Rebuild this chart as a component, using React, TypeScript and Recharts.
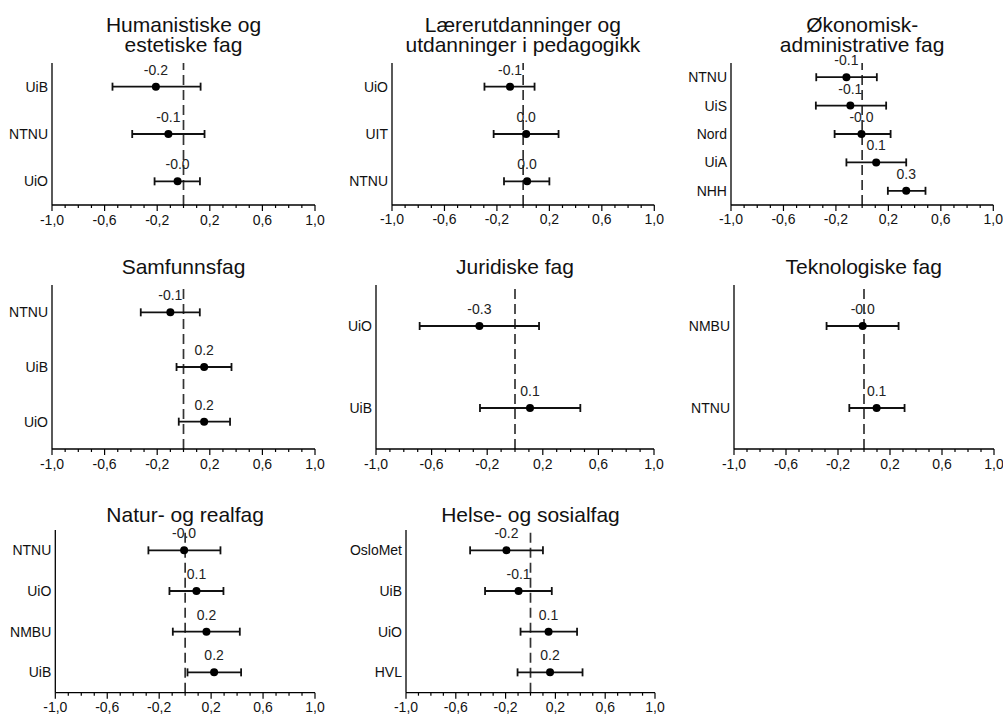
import React from 'react';
import { ComposedChart, Line, XAxis, YAxis, ErrorBar, LabelList, ReferenceLine } from 'recharts';

// one panel per field of study: institution, estimate, CI low, CI high, printed label
const humNames = ['UiB', 'NTNU', 'UiO'];
const humValues = [-0.21, -0.115, -0.045];
const humLow = [-0.54, -0.39, -0.22];
const humHigh = [0.13, 0.16, 0.125];
const humLabels = ['-0.2', '-0.1', '-0.0'];

const lerNames = ['UiO', 'UIT', 'NTNU'];
const lerValues = [-0.1, 0.023, 0.03];
const lerLow = [-0.295, -0.225, -0.146];
const lerHigh = [0.087, 0.27, 0.2];
const lerLabels = ['-0.1', '0.0', '0.0'];

const okoNames = ['NTNU', 'UiS', 'Nord', 'UiA', 'NHH'];
const okoValues = [-0.12, -0.09, -0.005, 0.107, 0.336];
const okoLow = [-0.35, -0.353, -0.21, -0.12, 0.196];
const okoHigh = [0.112, 0.183, 0.217, 0.336, 0.483];
const okoLabels = ['-0.1', '-0.1', '-0.0', '0.1', '0.3'];

const samNames = ['NTNU', 'UiB', 'UiO'];
const samValues = [-0.1, 0.157, 0.157];
const samLow = [-0.325, -0.053, -0.036];
const samHigh = [0.124, 0.365, 0.354];
const samLabels = ['-0.1', '0.2', '0.2'];

const jurNames = ['UiO', 'UiB'];
const jurValues = [-0.256, 0.108];
const jurLow = [-0.686, -0.252];
const jurHigh = [0.173, 0.47];
const jurLabels = ['-0.3', '0.1'];

const tekNames = ['NMBU', 'NTNU'];
const tekValues = [-0.01, 0.097];
const tekLow = [-0.288, -0.113];
const tekHigh = [0.266, 0.312];
const tekLabels = ['-0.0', '0.1'];

const natNames = ['NTNU', 'UiO', 'NMBU', 'UiB'];
const natValues = [-0.008, 0.087, 0.164, 0.223];
const natLow = [-0.283, -0.121, -0.095, 0.018];
const natHigh = [0.272, 0.295, 0.421, 0.431];
const natLabels = ['-0.0', '0.1', '0.2', '0.2'];

const helNames = ['OsloMet', 'UiB', 'UiO', 'HVL'];
const helValues = [-0.193, -0.096, 0.145, 0.157];
const helLow = [-0.485, -0.365, -0.08, -0.104];
const helHigh = [0.1, 0.171, 0.374, 0.418];
const helLabels = ['-0.2', '-0.1', '0.1', '0.2'];

const xTicks = [-1, -0.9, -0.8, -0.7, -0.6, -0.5, -0.4, -0.3, -0.2, -0.1, 0, 0.1, 0.2, 0.3, 0.4, 0.5, 0.6, 0.7, 0.8, 0.9, 1];
const majorTicks = [-1, -0.6, -0.2, 0.2, 0.6, 1];

const FONT = '"Liberation Sans", Arial, Helvetica, sans-serif';

const build = (names: string[], values: number[], low: number[], high: number[], labels: string[]) =>
  names.map((name, i) => ({
    name,
    value: values[i],
    err: [values[i] - low[i], high[i] - values[i]],
    label: labels[i],
  }));

const XTick = (props: any) => {
  const { x, y, payload } = props;
  const v = payload.value;
  const major = majorTicks.some((m) => Math.abs(m - v) < 1e-6);
  return (
    <g>
      <line x1={x} x2={x} y1={y} y2={y + (major ? 6 : 3)} stroke="#000" strokeWidth={1.2} />
      {major && (
        <text x={x} y={y + 19.5} textAnchor="middle" fontSize={14} fontFamily={FONT} fill="#111">
          {v.toFixed(1).replace('.', ',')}
        </text>
      )}
    </g>
  );
};

interface PanelProps {
  title: string[];
  data: any[];
  plotLeft: number;
  plotTop: number;
  plotWidth: number;
  plotHeight: number;
  yWidth: number;
  titleTop: number;
}

const TOP = 24;
const RIGHT = 16;
const XH = 30;

const Panel: React.FC<PanelProps> = ({ title, data, plotLeft, plotTop, plotWidth, plotHeight, yWidth, titleTop }) => (
  <>
    {title.map((t, i) => (
      <div
        key={t}
        style={{
          position: 'absolute',
          left: plotLeft - 60,
          width: plotWidth + 120,
          top: titleTop + i * 20,
          height: 20,
          textAlign: 'center',
          fontFamily: FONT,
          fontSize: 21,
          lineHeight: '20px',
          color: '#111',
          whiteSpace: 'nowrap',
        }}
      >
        {t}
      </div>
    ))}
    <div style={{ position: 'absolute', left: plotLeft - yWidth, top: plotTop - TOP }}>
      <ComposedChart
        width={yWidth + plotWidth + RIGHT}
        height={TOP + plotHeight + XH}
        data={data}
        layout="vertical"
        margin={{ top: TOP, right: RIGHT, left: 0, bottom: 0 }}
      >
        <XAxis
          type="number"
          dataKey="value"
          domain={[-1, 1]}
          ticks={xTicks}
          interval={0}
          allowDataOverflow
          height={XH}
          tickSize={0}
          tickMargin={0}
          tickLine={false}
          axisLine={{ stroke: '#000', strokeWidth: 1.3 }}
          tick={<XTick />}
        />
        <YAxis
          type="category"
          dataKey="name"
          scale="band"
          width={yWidth}
          tickLine={false}
          tickSize={2}
          tickMargin={2}
          axisLine={{ stroke: '#000', strokeWidth: 1.3 }}
          tick={{ fontSize: 14, fill: '#111', fontFamily: FONT }}
        />
        <ReferenceLine x={0} stroke="#333" strokeWidth={1.7} strokeDasharray="10 5" />
        <Line
          dataKey="value"
          stroke="none"
          isAnimationActive={false}
          dot={{ r: 4, fill: '#000', stroke: '#000', strokeWidth: 0 }}
          activeDot={false}
        >
          <ErrorBar dataKey="err" direction="x" width={4} stroke="#111" strokeWidth={1.8} />
          <LabelList dataKey="label" position="top" offset={12} fontSize={14} fill="#222" fontFamily={FONT} />
        </Line>
      </ComposedChart>
    </div>
  </>
);

export default function App() {
  return (
    <div style={{ position: 'absolute', left: 0, top: 0, width: 1003, height: 715, background: '#fff', overflow: 'hidden' }}>
      <Panel title={['Humanistiske og', 'estetiske fag']} data={build(humNames, humValues, humLow, humHigh, humLabels)}
        plotLeft={52} plotTop={63} plotWidth={263} plotHeight={142} yWidth={52} titleTop={15} />
      <Panel title={['Lærerutdanninger og', 'utdanninger i pedagogikk']} data={build(lerNames, lerValues, lerLow, lerHigh, lerLabels)}
        plotLeft={391.7} plotTop={63} plotWidth={262.3} plotHeight={142} yWidth={60} titleTop={15} />
      <Panel title={['Økonomisk-', 'administrative fag']} data={build(okoNames, okoValues, okoLow, okoHigh, okoLabels)}
        plotLeft={731} plotTop={63} plotWidth={262.3} plotHeight={142} yWidth={60} titleTop={15} />
      <Panel title={['Samfunnsfag']} data={build(samNames, samValues, samLow, samHigh, samLabels)}
        plotLeft={52} plotTop={285} plotWidth={263} plotHeight={164} yWidth={52} titleTop={257} />
      <Panel title={['Juridiske fag']} data={build(jurNames, jurValues, jurLow, jurHigh, jurLabels)}
        plotLeft={376} plotTop={285} plotWidth={278} plotHeight={164} yWidth={46} titleTop={257} />
      <Panel title={['Teknologiske fag']} data={build(tekNames, tekValues, tekLow, tekHigh, tekLabels)}
        plotLeft={733.7} plotTop={285} plotWidth={260} plotHeight={164} yWidth={60} titleTop={257} />
      <Panel title={['Natur- og realfag']} data={build(natNames, natValues, natLow, natHigh, natLabels)}
        plotLeft={55.3} plotTop={530} plotWidth={259.7} plotHeight={162.7} yWidth={55.3} titleTop={505} />
      <Panel title={['Helse- og sosialfag']} data={build(helNames, helValues, helLow, helHigh, helLabels)}
        plotLeft={406} plotTop={530} plotWidth={249} plotHeight={162.7} yWidth={76} titleTop={505} />
    </div>
  );
}
